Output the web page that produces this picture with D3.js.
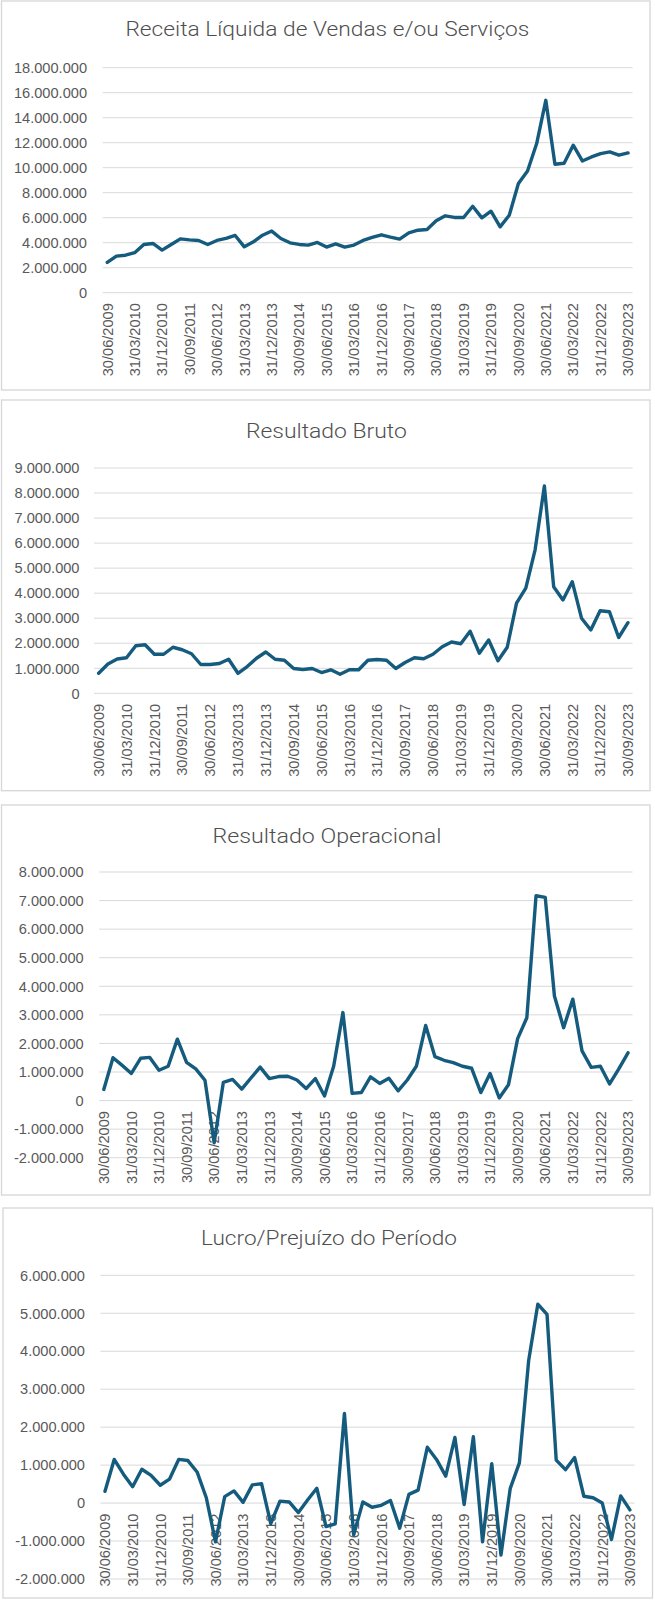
<!DOCTYPE html>
<html>
<head>
<meta charset="utf-8">
<script src="https://cdn.jsdelivr.net/npm/d3@7"></script>
<style>
  html, body { margin: 0; padding: 0; background: #ffffff; }
  svg { display: block; }
</style>
</head>
<body>
<svg id="chart" width="655" height="1600"></svg>
<script>
// ---------------- DATA ----------------
const quarters = [
  "30/06/2009","30/09/2009","31/12/2009","31/03/2010","30/06/2010","30/09/2010","31/12/2010","31/03/2011",
  "30/06/2011","30/09/2011","31/12/2011","31/03/2012","30/06/2012","30/09/2012","31/12/2012","31/03/2013",
  "30/06/2013","30/09/2013","31/12/2013","31/03/2014","30/06/2014","30/09/2014","31/12/2014","31/03/2015",
  "30/06/2015","30/09/2015","31/12/2015","31/03/2016","30/06/2016","30/09/2016","31/12/2016","31/03/2017",
  "30/06/2017","30/09/2017","31/12/2017","31/03/2018","30/06/2018","30/09/2018","31/12/2018","31/03/2019",
  "30/06/2019","30/09/2019","31/12/2019","31/03/2020","30/06/2020","30/09/2020","31/12/2020","31/03/2021",
  "30/06/2021","30/09/2021","31/12/2021","31/03/2022","30/06/2022","30/09/2022","31/12/2022","31/03/2023",
  "30/06/2023","30/09/2023"
];

const titles = [
  "Receita Líquida de Vendas e/ou Serviços",
  "Resultado Bruto",
  "Resultado Operacional",
  "Lucro/Prejuízo do Período"
];

const receitaLiquida = [
  2420000, 2930000, 3000000, 3200000, 3860000, 3940000, 3410000, 3860000,
  4310000, 4230000, 4180000, 3860000, 4180000, 4340000, 4580000, 3670000,
  4070000, 4600000, 4930000, 4340000, 3990000, 3860000, 3810000, 4020000,
  3650000, 3910000, 3650000, 3810000, 4180000, 4420000, 4630000, 4450000,
  4290000, 4790000, 5000000, 5060000, 5750000, 6150000, 6020000, 6020000,
  6920000, 5990000, 6520000, 5270000, 6200000, 8730000, 9740000, 11930000,
  15390000, 10280000, 10360000, 11800000, 10540000, 10860000, 11130000, 11260000,
  11000000, 11180000
];

const resultadoBruto = [
  800000, 1170000, 1370000, 1420000, 1900000, 1940000, 1560000, 1560000,
  1840000, 1740000, 1580000, 1150000, 1150000, 1190000, 1360000, 800000,
  1070000, 1400000, 1650000, 1360000, 1320000, 990000, 950000, 990000,
  830000, 940000, 760000, 940000, 940000, 1320000, 1350000, 1320000,
  990000, 1230000, 1420000, 1380000, 1560000, 1860000, 2050000, 1980000,
  2480000, 1600000, 2130000, 1300000, 1840000, 3600000, 4200000, 5730000,
  8280000, 4260000, 3730000, 4460000, 3000000, 2530000, 3300000, 3260000,
  2230000, 2820000
];

const resultadoOperacional = [
  390000, 1500000, 1230000, 950000, 1480000, 1510000, 1060000, 1200000,
  2150000, 1340000, 1110000, 710000, -1480000, 640000, 740000, 400000,
  790000, 1170000, 770000, 840000, 850000, 720000, 420000, 770000,
  160000, 1210000, 3080000, 250000, 280000, 830000, 600000, 780000,
  340000, 720000, 1210000, 2630000, 1540000, 1410000, 1330000, 1200000,
  1130000, 280000, 950000, 90000, 550000, 2170000, 2900000, 7170000,
  7110000, 3660000, 2550000, 3550000, 1740000, 1160000, 1200000, 580000,
  1110000, 1670000
];

const lucroPrejuizo = [
  310000, 1150000, 760000, 430000, 890000, 730000, 470000, 630000,
  1150000, 1120000, 820000, 140000, -1020000, 170000, 320000, 20000,
  480000, 510000, -540000, 50000, 30000, -250000, 80000, 390000,
  -620000, -550000, 2360000, -840000, 30000, -110000, -60000, 70000,
  -660000, 230000, 340000, 1470000, 1150000, 710000, 1730000, -40000,
  1750000, -1020000, 1040000, -1370000, 380000, 1060000, 3740000, 5240000,
  4970000, 1130000, 880000, 1200000, 180000, 140000, 0, -960000,
  190000, -180000
];

const yTicks1 = [0, 2000000, 4000000, 6000000, 8000000, 10000000, 12000000, 14000000, 16000000, 18000000];
const yTicks2 = [0, 1000000, 2000000, 3000000, 4000000, 5000000, 6000000, 7000000, 8000000, 9000000];
const yTicks3 = [-2000000, -1000000, 0, 1000000, 2000000, 3000000, 4000000, 5000000, 6000000, 7000000, 8000000];
const yTicks4 = [-2000000, -1000000, 0, 1000000, 2000000, 3000000, 4000000, 5000000, 6000000];

// ---------------- LAYOUT ----------------
const panels = [
  { title: titles[0], values: receitaLiquida, ticks: yTicks1,
    box: [1.5, 1, 650, 390], plotX: [102.7, 632.6], yPix: [292.7, 67.7], titleY: 36, titleX: 327.4, titleW: 404, labelRight: 87 },
  { title: titles[1], values: resultadoBruto, ticks: yTicks2,
    box: [1.5, 400, 650, 790.7], plotX: [94, 632.6], yPix: [693.3, 468], titleY: 437.7, titleX: 326.4, titleW: 161, labelRight: 79.5 },
  { title: titles[2], values: resultadoOperacional, ticks: yTicks3,
    box: [1.5, 805, 650, 1195], plotX: [99.2, 632.6], yPix: [1157.7, 872], titleY: 842.7, titleX: 327, titleW: 229, labelRight: 83.7 },
  { title: titles[3], values: lucroPrejuizo, ticks: yTicks4,
    box: [3, 1208, 652.5, 1598], plotX: [100.4, 634.5], yPix: [1579, 1275.3], titleY: 1245, titleX: 329, titleW: 256, labelRight: 85 }
];

const lineColor = "#155b7d";
const gridColor = "#d9d9d9";
const textColor = "#595959";

const locale = d3.formatLocale({ decimal: ",", thousands: ".", grouping: [3], currency: ["R$ ", ""], minus: "-" });
const fmt = locale.format(",.0f");

const svg = d3.select("#chart");

panels.forEach(p => {
  const g = svg.append("g");

  // frame
  g.append("rect")
    .attr("x", p.box[0]).attr("y", p.box[1])
    .attr("width", p.box[2] - p.box[0]).attr("height", p.box[3] - p.box[1])
    .attr("fill", "#ffffff").attr("stroke", "#d6d6d6").attr("stroke-width", 1.3);

  // title
  g.append("text")
    .attr("x", p.titleX).attr("y", p.titleY)
    .attr("text-anchor", "middle")
    .attr("font-family", "Roboto, 'Liberation Sans', sans-serif")
    .attr("font-weight", 300)
    .attr("font-size", 20.5)
    .attr("fill", "#4f4f4f")
    .attr("textLength", p.titleW)
    .attr("lengthAdjust", "spacingAndGlyphs")
    .text(p.title);

  const x = d3.scaleBand().domain(quarters).range(p.plotX).paddingInner(0).paddingOuter(0);
  const cx = d => x(d) + x.bandwidth() / 2;
  const yMin = d3.min(p.ticks), yMax = d3.max(p.ticks);
  const y = d3.scaleLinear().domain([yMin, yMax]).range(p.yPix);

  // gridlines
  g.append("g").selectAll("line").data(p.ticks).join("line")
    .attr("x1", p.plotX[0]).attr("x2", p.plotX[1])
    .attr("y1", d => y(d)).attr("y2", d => y(d))
    .attr("stroke", gridColor).attr("stroke-width", 1);

  // y labels
  g.append("g").selectAll("text").data(p.ticks).join("text")
    .attr("x", p.labelRight).attr("y", d => y(d))
    .attr("dy", "0.36em")
    .attr("text-anchor", "end")
    .attr("font-family", "'Liberation Sans', Arial, sans-serif")
    .attr("font-size", 14.6)
    .attr("fill", textColor)
    .text(d => fmt(d));

  // x labels (every 3rd quarter), rotated
  const shown = quarters.filter((q, i) => i % 3 === 0);
  const y0 = y(0) + 10.5;
  g.append("g").selectAll("text").data(shown).join("text")
    .attr("transform", d => `translate(${cx(d)},${y0}) rotate(-90)`)
    .attr("dy", "0.36em")
    .attr("text-anchor", "end")
    .attr("font-family", "'Liberation Sans', Arial, sans-serif")
    .attr("font-size", 14.6)
    .attr("fill", textColor)
    .text(d => d);

  // line
  const line = d3.line().x((d, i) => cx(quarters[i])).y(d => y(d));
  g.append("path")
    .datum(p.values)
    .attr("d", line)
    .attr("fill", "none")
    .attr("stroke", lineColor)
    .attr("stroke-width", 3.4)
    .attr("stroke-linejoin", "round")
    .attr("stroke-linecap", "round");
});
</script>
</body>
</html>
